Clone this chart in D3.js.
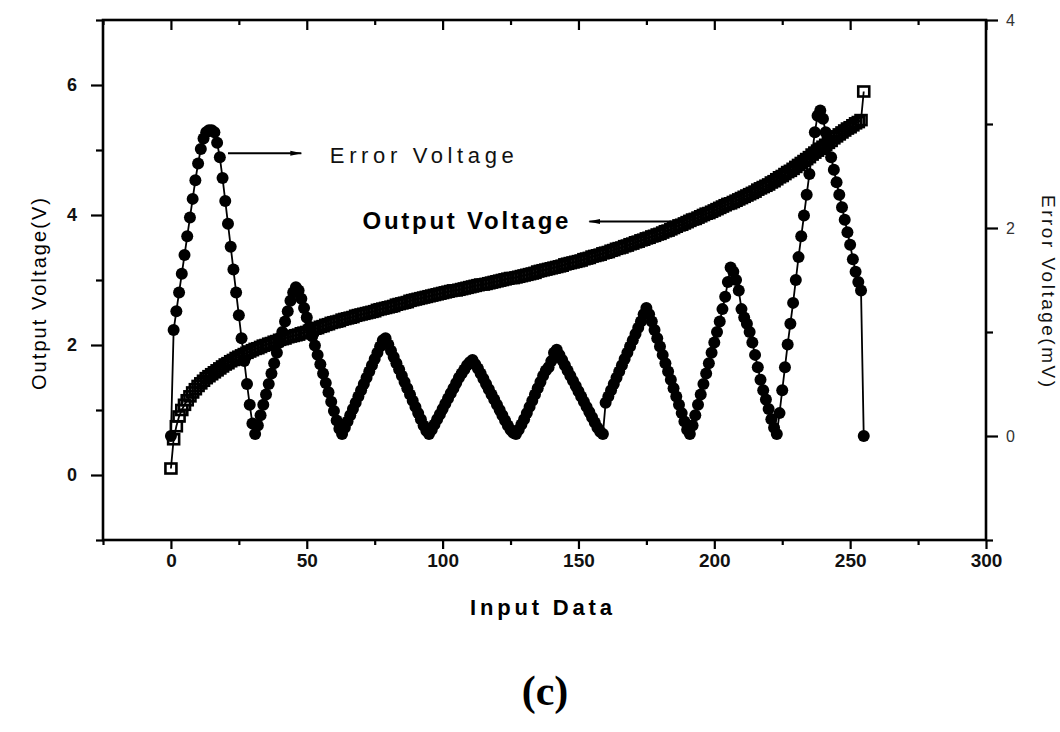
<!DOCTYPE html>
<html><head><meta charset="utf-8">
<script src="https://cdn.jsdelivr.net/npm/d3@7"></script>
<style>
html,body{margin:0;padding:0;background:#fff;}
svg{display:block;}
</style></head>
<body>
<svg id="chart" width="1060" height="732"></svg>
<script>
// ---------------- DATA ----------------
const codes = d3.range(0, 256); // input data codes 0..255

const outputVoltage = [
 0.10,0.55,0.75,0.90,1.00,1.08,1.15,1.21,1.27,1.32,
 1.37,1.41,1.45,1.49,1.52,1.55,1.58,1.61,1.64,1.67,
 1.70,1.72,1.75,1.77,1.80,1.82,1.84,1.86,1.88,1.90,
 1.92,
 1.94,1.95,1.97,1.99,2.00,2.02,2.03,2.05,2.06,2.08,
 2.09,2.10,2.12,2.13,2.14,2.15,2.16,2.18,2.19,2.20,
 2.22,2.23,2.25,2.26,2.28,2.29,2.31,2.32,2.34,2.35,
 2.36,2.37,2.39,2.40,2.41,2.42,2.43,2.45,2.46,2.47,
 2.48,2.49,2.50,2.51,2.52,2.54,2.55,2.56,2.57,2.58,
 2.59,2.60,2.62,2.63,2.64,2.65,2.66,2.68,2.69,2.70,
 2.71,2.72,2.73,2.74,2.75,2.76,2.77,2.78,2.79,2.80,
 2.81,2.82,2.83,2.84,2.84,2.85,2.86,2.87,2.88,2.89,
 2.90,2.91,2.92,2.93,2.93,2.94,2.95,2.96,2.97,2.98,
 2.99,3.00,3.01,3.02,3.03,3.03,3.04,3.05,3.06,3.07,
 3.08,3.09,3.10,3.11,3.13,3.14,3.15,3.16,3.17,3.18,
 3.19,3.20,3.21,3.22,3.24,3.25,3.26,3.27,3.28,3.29,
 3.30,3.32,3.33,3.34,3.36,3.37,3.38,3.39,3.41,3.42,
 3.43,3.45,3.46,3.48,3.49,3.50,3.52,3.53,3.55,3.56,
 3.58,3.59,3.61,3.62,3.64,3.65,3.67,3.68,3.70,3.71,
 3.73,3.75,3.76,3.78,3.80,3.82,3.84,3.85,3.87,3.89,
 3.91,3.93,3.94,3.96,3.98,4.00,4.02,4.03,4.05,4.07,
 4.09,4.11,4.13,4.15,4.17,4.18,4.20,4.22,4.24,4.26,
 4.28,4.30,4.32,4.34,4.36,4.39,4.41,4.43,4.45,4.47,
 4.50,4.52,4.55,4.58,4.60,4.63,4.66,4.68,4.71,4.74,
 4.77,4.80,4.83,4.86,4.89,4.93,4.96,4.99,5.02,5.05,
 5.08,5.11,5.14,5.18,5.21,5.24,
 5.27,5.30,5.33,5.35,5.38,5.41,5.43,5.46,
 5.90
];

const errorVoltage = [
 // 0-31
 0.00,1.02,1.20,1.38,1.56,1.74,1.92,2.10,2.28,2.46,2.62,2.76,2.86,2.92,2.94,2.94,
 2.92,2.82,2.68,2.48,2.26,2.04,1.82,1.60,1.38,1.16,0.94,0.72,0.50,0.30,0.12,0.02,
 // 32-63
 0.10,0.20,0.30,0.40,0.50,0.60,0.70,0.80,0.90,1.00,1.10,1.20,1.30,1.38,1.43,1.40,
 1.32,1.23,1.14,1.05,0.96,0.87,0.78,0.69,0.60,0.51,0.42,0.33,0.24,0.15,0.07,0.02,
 // 64-95
 0.08,0.14,0.20,0.26,0.32,0.38,0.44,0.50,0.56,0.62,0.68,0.74,0.80,0.86,0.92,0.94,
 0.88,0.82,0.76,0.70,0.64,0.58,0.52,0.46,0.40,0.34,0.28,0.22,0.16,0.10,0.05,0.02,
 // 96-127
 0.06,0.11,0.16,0.21,0.26,0.31,0.36,0.41,0.46,0.51,0.56,0.60,0.64,0.68,0.71,0.73,
 0.69,0.65,0.60,0.55,0.50,0.45,0.40,0.35,0.30,0.25,0.20,0.15,0.10,0.06,0.03,0.02,
 // 128-159
 0.06,0.11,0.16,0.22,0.28,0.34,0.40,0.46,0.52,0.58,0.63,0.66,0.72,0.80,0.83,0.78,
 0.73,0.68,0.63,0.58,0.53,0.48,0.43,0.38,0.33,0.28,0.23,0.18,0.13,0.08,0.04,0.02,
 // 160-191
 0.32,0.38,0.44,0.50,0.56,0.62,0.68,0.74,0.80,0.86,0.92,0.98,1.04,1.10,1.17,1.23,
 1.17,1.10,1.02,0.94,0.86,0.78,0.70,0.62,0.54,0.46,0.38,0.30,0.22,0.14,0.06,0.02,
 // 192-223
 0.10,0.20,0.30,0.40,0.50,0.60,0.70,0.80,0.90,1.00,1.10,1.22,1.34,1.48,1.62,1.58,
 1.50,1.40,1.22,1.14,1.08,1.00,0.90,0.78,0.66,0.54,0.44,0.35,0.26,0.16,0.08,0.02,
 // 224-255
 0.22,0.44,0.66,0.88,1.08,1.28,1.50,1.72,1.92,2.12,2.32,2.52,2.72,2.92,3.08,3.13,
 3.05,2.92,2.80,2.68,2.56,2.44,2.32,2.20,2.08,1.96,1.84,1.70,1.58,1.48,1.40,0.00
];

const xMajorTicks = [0, 50, 100, 150, 200, 250, 300];
const xMinorTicks = [-25, 25, 75, 125, 175, 225, 275];
const leftMajorTicks = [0, 2, 4, 6];
const leftMinorTicks = [-1, 1, 3, 5, 7];
const rightMajorTicks = [0, 2, 4];
const rightMinorTicks = [-1, 1, 3];

const xTitle = "Input Data";
const leftTitle = "Output Voltage(V)";
const rightTitle = "Error Voltage(mV)";
const panelLabel = "(c)";
// annotations in data units
const errorNote = {text: "Error Voltage", arrowFrom: [21, 4.95], arrowTo: [48, 4.95], textAt: [58.5, 4.80]};
const outputNote = {text: "Output Voltage", arrowFrom: [184, 3.9], arrowTo: [154, 3.9], textAt: [70.5, 3.78]};

// ---------------- LAYOUT ----------------
const svg = d3.select("#chart");
const L = 103, R = 986, T = 20, B = 540;
const x = d3.scaleLinear().domain([-25, 300]).range([L, R]);
const yL = d3.scaleLinear().domain([-1, 7]).range([B, T]);
const yR = d3.scaleLinear().domain([-1, 4]).range([B, T]);

svg.append("rect").attr("width",1060).attr("height",732).attr("fill","#fff");

const font = "Liberation Sans, Arial, Helvetica, sans-serif";

function styleAxis(g){
  g.select(".domain").remove();
  g.selectAll(".tick line").attr("stroke","#000").attr("stroke-width",2.2);
}

// bottom
svg.append("g").attr("transform",`translate(0,${B})`)
  .call(d3.axisBottom(x).tickValues(xMajorTicks).tickSize(9).tickPadding(5).tickFormat(d3.format("d")))
  .call(styleAxis)
  .call(g=>g.selectAll("text").attr("font-family",font).attr("font-weight","bold").attr("font-size",19).attr("fill","#111"));
svg.append("g").attr("transform",`translate(0,${B})`)
  .call(d3.axisBottom(x).tickValues(xMinorTicks).tickSize(5).tickFormat(""))
  .call(styleAxis);
// top (mirror, inward)
svg.append("g").attr("transform",`translate(0,${T})`)
  .call(d3.axisTop(x).tickValues(xMajorTicks).tickSize(-10).tickFormat(""))
  .call(styleAxis);
svg.append("g").attr("transform",`translate(0,${T})`)
  .call(d3.axisTop(x).tickValues(xMinorTicks).tickSize(-5).tickFormat(""))
  .call(styleAxis);
// left
svg.append("g").attr("transform",`translate(${L},0)`)
  .call(d3.axisLeft(yL).tickValues(leftMajorTicks).tickSize(12).tickPadding(14).tickFormat(d3.format("d")))
  .call(styleAxis)
  .call(g=>g.selectAll("text").attr("font-family",font).attr("font-weight","bold").attr("font-size",18).attr("fill","#111"));
svg.append("g").attr("transform",`translate(${L},0)`)
  .call(d3.axisLeft(yL).tickValues(leftMinorTicks).tickSize(7).tickFormat(""))
  .call(styleAxis);
// right
svg.append("g").attr("transform",`translate(${R},0)`)
  .call(d3.axisRight(yR).tickValues(rightMajorTicks).tickSize(12).tickPadding(8).tickFormat(d3.format("d")))
  .call(styleAxis)
  .call(g=>g.selectAll("text").attr("font-family",font).attr("font-size",16).attr("fill","#333"));
svg.append("g").attr("transform",`translate(${R},0)`)
  .call(d3.axisRight(yR).tickValues(rightMinorTicks).tickSize(7).tickFormat(""))
  .call(styleAxis);

// frame
svg.append("rect").attr("x",L).attr("y",T).attr("width",R-L).attr("height",B-T)
  .attr("fill","none").attr("stroke","#000").attr("stroke-width",2.6);

// ---------------- SERIES ----------------
const outPts = codes.map((c,i)=>[c, outputVoltage[i]]).filter(d=>d[1]!==undefined);
const errPts = codes.map((c,i)=>[c, errorVoltage[i]]).filter(d=>d[1]!==undefined);

const plot = svg.append("g");
plot.append("path").datum(outPts)
  .attr("d", d3.line().x(d=>x(d[0])).y(d=>yL(d[1])))
  .attr("fill","none").attr("stroke","#000").attr("stroke-width",1.8);
plot.selectAll("rect.out").data(outPts).join("rect").attr("class","out")
  .attr("x",d=>x(d[0])-5.5).attr("y",d=>yL(d[1])-5)
  .attr("width",11).attr("height",10)
  .attr("fill","none").attr("stroke","#000").attr("stroke-width",2.6);

plot.append("path").datum(errPts)
  .attr("d", d3.line().x(d=>x(d[0])).y(d=>yR(d[1])))
  .attr("fill","none").attr("stroke","#000").attr("stroke-width",1.8);
plot.selectAll("circle.err").data(errPts).join("circle").attr("class","err")
  .attr("cx",d=>x(d[0])).attr("cy",d=>yR(d[1])).attr("r",6)
  .attr("fill","#000");

// ---------------- ANNOTATIONS ----------------
const defs = svg.append("defs");
defs.append("marker").attr("id","ah").attr("viewBox","0 0 12 8")
  .attr("refX",11).attr("refY",4).attr("markerWidth",12).attr("markerHeight",8)
  .attr("markerUnits","userSpaceOnUse").attr("orient","auto")
  .append("path").attr("d","M0,1.5 L12,4 L0,6.5 Z").attr("fill","#000");

[errorNote, outputNote].forEach(n=>{
  svg.append("line")
    .attr("x1",x(n.arrowFrom[0])).attr("y1",yL(n.arrowFrom[1]))
    .attr("x2",x(n.arrowTo[0])).attr("y2",yL(n.arrowTo[1]))
    .attr("stroke","#000").attr("stroke-width",2.2).attr("marker-end","url(#ah)");
});
svg.append("text").attr("x",x(errorNote.textAt[0])).attr("y",yL(errorNote.textAt[1]))
  .attr("font-family",font).attr("font-size",22).attr("fill","#111")
  .attr("textLength",184).attr("lengthAdjust","spacing").text(errorNote.text);
svg.append("text").attr("x",x(outputNote.textAt[0])).attr("y",yL(outputNote.textAt[1]))
  .attr("font-family",font).attr("font-weight","bold").attr("font-size",24).attr("fill","#000")
  .attr("textLength",206).attr("lengthAdjust","spacing").text(outputNote.text);

// ---------------- TITLES ----------------
svg.append("text").attr("x",470).attr("y",615)
  .attr("font-family",font).attr("font-weight","bold").attr("font-size",22).attr("fill","#000")
  .attr("textLength",142).attr("lengthAdjust","spacing").text(xTitle);
svg.append("text").attr("transform","translate(46,390) rotate(-90)")
  .attr("font-family",font).attr("font-size",20).attr("fill","#000")
  .attr("textLength",192).attr("lengthAdjust","spacing").text(leftTitle);
svg.append("text").attr("transform","translate(1042,195) rotate(90)")
  .attr("font-family",font).attr("font-size",19).attr("fill","#111")
  .attr("textLength",192).attr("lengthAdjust","spacing").text(rightTitle);
svg.append("text").attr("x",545).attr("y",705).attr("text-anchor","middle")
  .attr("font-family","Liberation Serif, Times New Roman, serif").attr("font-weight","bold")
  .attr("font-size",42).attr("fill","#000").text(panelLabel);
</script>
</body></html>
